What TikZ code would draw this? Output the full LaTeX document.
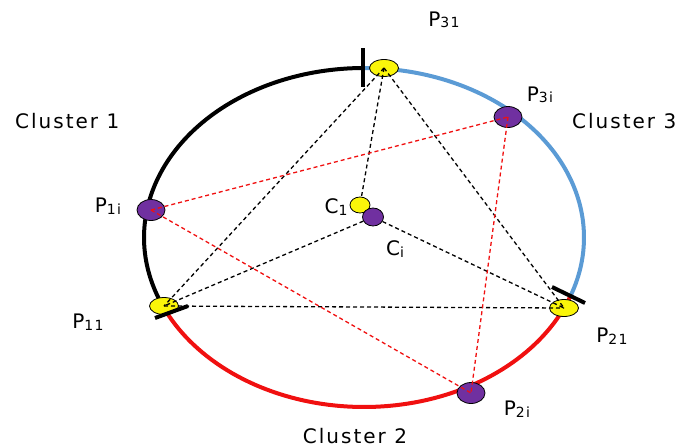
\documentclass[tikz,border=0pt]{standalone}
\usepackage{fontspec}
\setmainfont{DejaVu Sans}[LetterSpace=10]
\usetikzlibrary{shapes.geometric}
\definecolor{arcblue}{RGB}{91,155,213}
\definecolor{arcred}{RGB}{240,16,16}
\definecolor{ptpurple}{RGB}{112,48,160}
\definecolor{ptyellow}{RGB}{250,245,10}
\newcommand{\mysubs}[1]{\raisebox{-1.5pt}{\fontsize{14}{14}\selectfont #1}}
\begin{document}
\begin{tikzpicture}[x=1pt,y=-1pt,
  yel/.style={ellipse, draw=black, line width=0.8pt, fill=ptyellow, minimum width=29pt, minimum height=17pt, inner sep=0pt},
  pur/.style={ellipse, draw=black, line width=0.8pt, fill=ptpurple, minimum width=28pt, minimum height=21pt, inner sep=0pt},
  cyel/.style={yel, minimum width=20pt, minimum height=16pt},
  cpur/.style={pur, minimum width=21pt, minimum height=18pt},
  blkdash/.style={draw=black, line width=1.3pt, dash pattern=on 4pt off 3pt},
  reddash/.style={draw=arcred, line width=1.3pt, dash pattern=on 4pt off 3pt},
  arcline/.style={line width=4pt},
  tickline/.style={draw=black, line width=4pt},
  lab/.style={font=\fontsize{20}{24}\selectfont, inner sep=0pt, text=black}]
\useasboundingbox (0,0) rectangle (680,447);
% arcs of the hand-drawn circle
\draw[arcline, black] plot[domain=156:270, samples=80] ({364+220*cos(\x)},{237.5+169.5*sin(\x)});
\draw[arcline, arcblue] plot[domain=-90:20, samples=80] ({364+220*cos(\x)},{237.5+169.5*sin(\x)});
\draw[arcline, arcred] plot[domain=20:156, samples=80] ({364+220*cos(\x)},{237.5+169.5*sin(\x)});
% points
\node[yel] (p31) at (384,68) {};
\node[yel] (p11) at (164,306) {};
\node[yel] (p21) at (564,308) {};
\node[pur] (p3i) at (508,117) {};
\node[pur] (p1i) at (151,210) {};
\node[pur] (p2i) at (471,393) {};
\node[cyel] (c1) at (360,205) {};
\node[cpur] (ci) at (373,217) {};
% black dashed connectors
\draw[blkdash] (p31.center) -- (p11.center);
\draw[blkdash] (p31.center) -- (c1);
\draw[blkdash] (p31.center) -- (p21.center);
\draw[blkdash] (p11.center) -- (p21.center);
\draw[blkdash] (ci) -- (p11.center);
\draw[blkdash] (ci) -- (p21.center);
% red dashed connectors
\draw[reddash] (p1i.center) -- (p3i.center);
\draw[reddash] (p1i.center) -- (p2i.center);
\draw[reddash] (p3i.center) -- (p2i.center);
% cluster boundary ticks
\coordinate (t1a) at (363,48); \coordinate (t1b) at (363,87);
\coordinate (t2a) at (155,318); \coordinate (t2b) at (188,306);
\coordinate (t3a) at (552,287); \coordinate (t3b) at (585,303);
\draw[tickline] (t1a) -- (t1b);
\draw[tickline] (t2a) -- (t2b);
\draw[tickline] (t3a) -- (t3b);
% labels
\node[lab] (lp31) at (444,20) {P\mysubs{31}};
\node[lab] (lp3i) at (540,95) {P\mysubs{3i}};
\node[lab, anchor=west] (lc3) at (572,121) {Cluster 3};
\node[lab, anchor=west] (lc1) at (15,121) {Cluster 1};
\node[lab] (lp1i) at (108,206) {P\mysubs{1i}};
\node[lab] (lc1p) at (336,207) {C\mysubs{1}};
\node[lab] (lci) at (395,249) {C\mysubs{i}};
\node[lab] (lp11) at (88,322) {P\mysubs{11}};
\node[lab] (lp21) at (612,336) {P\mysubs{21}};
\node[lab] (lp2i) at (517,409) {P\mysubs{2i}};
\node[lab] (lc2) at (355,436) {Cluster 2};
\end{tikzpicture}
\end{document}
